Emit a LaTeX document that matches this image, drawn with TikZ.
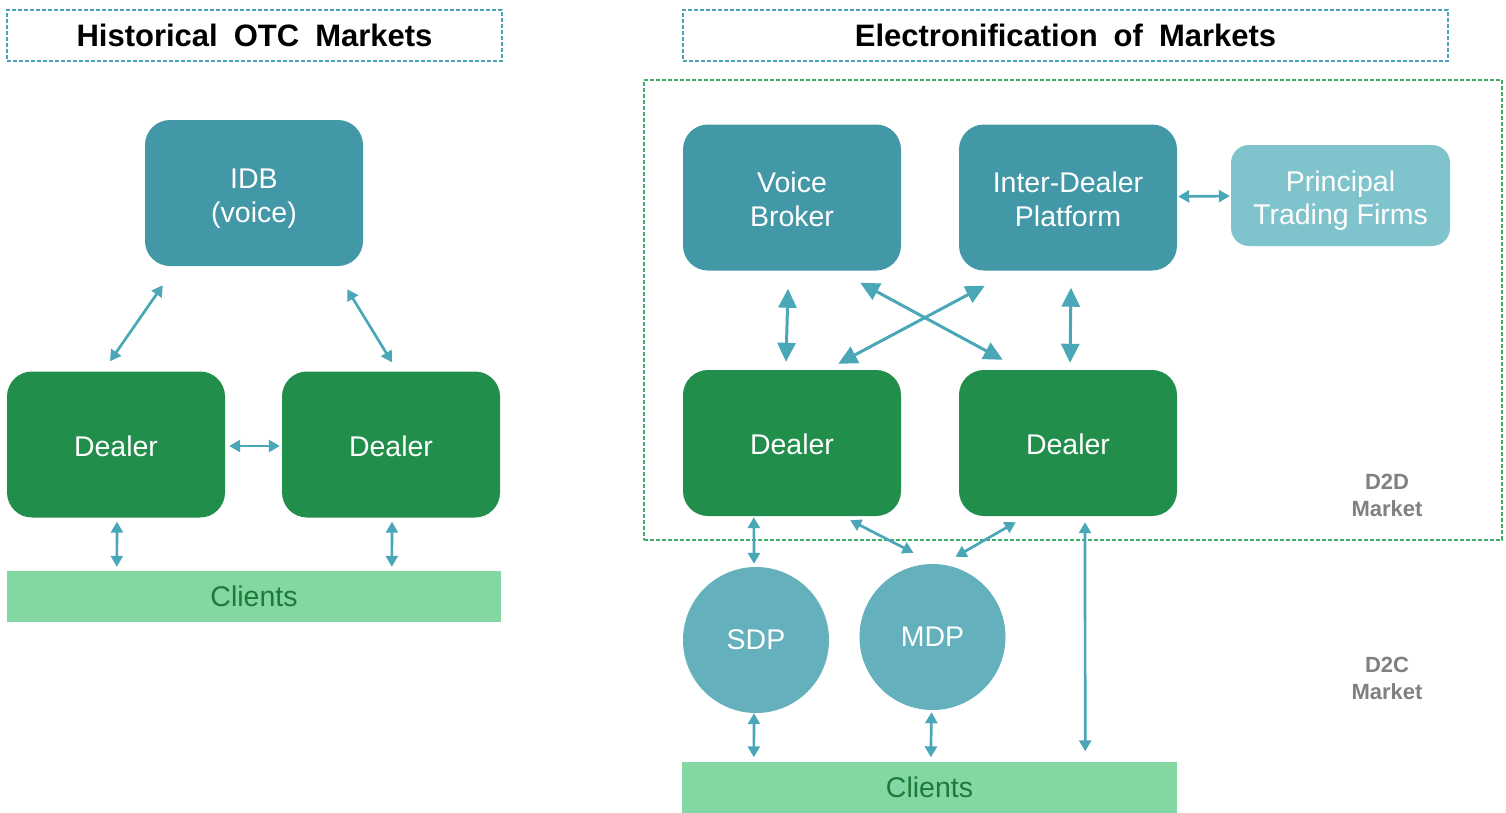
\documentclass[tikz,border=0pt]{standalone}
\usepackage{fontspec}
\setmainfont{Liberation Sans}
\usetikzlibrary{arrows.meta,calc}
\definecolor{boxblue}{HTML}{4398A7}
\definecolor{ptfblue}{HTML}{7FC3CC}
\definecolor{dealergreen}{HTML}{228E4C}
\definecolor{circblue}{HTML}{64B0BC}
\definecolor{clientfill}{HTML}{83D7A2}
\definecolor{clienttext}{HTML}{1C7A3A}
\definecolor{arrc}{HTML}{4AA7B7}
\definecolor{titledash}{HTML}{4AA3B5}
\definecolor{mktdash}{HTML}{3FAA6A}
\definecolor{mktgray}{HTML}{808080}
\newcommand\mywidespaces{\spaceskip=16pt plus 2pt minus 1pt\relax}
\newcommand\lowertext[2]{\raisebox{-#1}[\height][\depth]{\begin{tabular}{@{}c@{}}#2\end{tabular}}}
\tikzset{
  bodytext/.style={font=\fontsize{28.5}{33.5}\selectfont, align=center},
  rbox/.style={bodytext, text=white, rounded corners=25pt, minimum width=218pt, minimum height=146pt, inner sep=0pt},
  bluebox/.style={rbox, fill=boxblue},
  dealerbox/.style={rbox, fill=dealergreen},
  ptfbox/.style={bodytext, text=white, fill=ptfblue, rounded corners=18pt, minimum width=219pt, minimum height=101pt, inner sep=0pt},
  circnode/.style={bodytext, text=white, fill=circblue, circle, minimum size=146pt, inner sep=0pt},
  clientbar/.style={bodytext, text=clienttext, fill=clientfill, minimum height=51pt, inner sep=0pt},
  titlebox/.style={draw=titledash, line width=1.2pt, dash pattern=on 4pt off 2pt, minimum height=51pt, inner sep=0pt, font=\fontsize{31}{36}\selectfont\bfseries\mywidespaces},
  mktlabel/.style={text=mktgray, font=\fontsize{22}{27}\selectfont\bfseries, align=center},
  arrsmall/.style={draw=arrc, line width=2.7pt, {Triangle[width=12pt,length=11pt]}-{Triangle[width=12pt,length=11pt]}},
  arrbig/.style={draw=arrc, line width=3pt, {Triangle[width=18pt,length=19pt]}-{Triangle[width=18pt,length=19pt]}},
}
\begin{document}
\begin{tikzpicture}[x=1pt,y=-1pt]
\useasboundingbox (0,0) rectangle (1506,812);
% ---------- left ----------
\node[titlebox, minimum width=495pt] (t1) at (254.5,35.5) {Historical OTC Markets};
\node[bluebox] (idb) at (254,193) {\lowertext{6pt}{IDB\\(voice)}};
\node[dealerbox] (dl) at (116,444.5) {\lowertext{5pt}{Dealer}};
\node[dealerbox] (dr) at (391,444.5) {\lowertext{5pt}{Dealer}};
\node[clientbar, minimum width=494pt] (cl1) at (254,596.5) {Clients};
\draw[arrsmall] ($(idb.south west)+(18,19)$) -- ($(dl.north)+(-6,-10)$);
\draw[arrsmall] ($(idb.south east)+(-16,23)$) -- ($(dr.north)+(1,-9)$);
\draw[arrsmall] ($(dl.east)+(4,1.5)$) -- ($(dr.west)+(-2,1.5)$);
\draw[arrsmall] ($(dl.south)+(1,4)$) -- ($(cl1.north west)+(110,-4)$);
\draw[arrsmall] ($(dr.south)+(1,4)$) -- ($(cl1.north west)+(385,-4)$);
% ---------- right ----------
\node[titlebox, minimum width=765pt] (t2) at (1065.5,35.5) {Electronification of Markets};
\node[draw=mktdash, line width=1.2pt, dash pattern=on 4pt off 2pt, minimum width=858pt, minimum height=460pt, inner sep=0pt] (d2d) at (1073,310) {};
\node[bluebox] (vb) at (792,197.5) {\lowertext{5.5pt}{Voice\\Broker}};
\node[bluebox] (idp) at (1068,197.5) {\lowertext{5.5pt}{Inter-Dealer\\Platform}};
\node[ptfbox] (ptf) at (1340.5,195.5) {\lowertext{6pt}{Principal\\Trading Firms}};
\node[dealerbox] (d1) at (792,443) {\lowertext{5pt}{Dealer}};
\node[dealerbox] (d2) at (1068,443) {\lowertext{5pt}{Dealer}};
\node[circnode] (sdp) at (756,640) {SDP};
\node[circnode] (mdp) at (932.5,637) {MDP};
\node[clientbar, minimum width=495pt] (cl2) at (929.5,787) {Clients};
\node[mktlabel] (lab1) at (1387,495) {D2D\\Market};
\node[mktlabel] (lab2) at (1387,678) {D2C\\Market};
\draw[arrbig] ($(vb.south)+(-4,18)$) -- ($(d1.north)+(-6,-8)$);
\draw[arrbig] ($(idp.south)+(3,17)$) -- ($(d2.north)+(2,-7)$);
\draw[arrbig] ($(vb.south east)+(-41,12)$) -- ($(d2.north west)+(44,-10)$);
\draw[arrbig] ($(idp.south west)+(26,15)$) -- ($(d1.north east)+(-63,-6)$);
\draw[arrsmall] ($(idp.east)+(1,-1)$) -- ($(ptf.west)+(-1,0.5)$);
\draw[arrsmall] ($(d1.south west)+(71,1)$) -- ($(sdp.north)+(-2,-3)$);
\draw[arrsmall] ($(d1.south east)+(-51,4)$) -- ($(mdp.north)+(-19,-11)$);
\draw[arrsmall] ($(d2.south west)+(57,6)$) -- ($(mdp.north)+(23,-7)$);
\draw[arrsmall] ($(d2.south)+(17,6)$) -- ($(cl2.north east)+(-92,-10)$);
\draw[arrsmall] ($(sdp.south)+(-2,0)$) -- ($(cl2.north west)+(72,-4)$);
\draw[arrsmall] ($(mdp.south)+(-1,2)$) -- ($(cl2.north west)+(249,-4)$);
\end{tikzpicture}
\end{document}
